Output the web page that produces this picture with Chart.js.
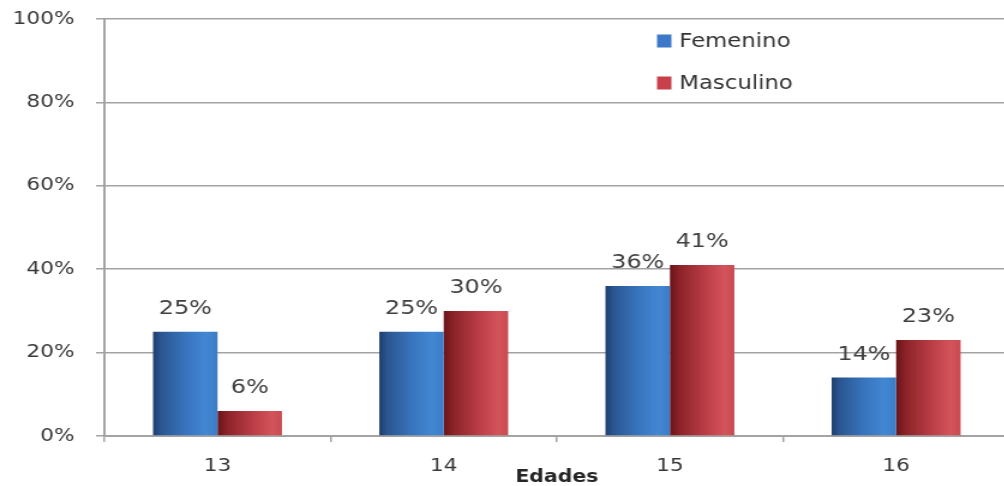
<!DOCTYPE html>
<html>
<head>
<meta charset="utf-8">
<script src="https://cdn.jsdelivr.net/npm/chart.js@4/dist/chart.umd.min.js"></script>
<style>
  html, body { margin: 0; padding: 0; background: #fff; overflow: hidden; }
  #wrap { position: relative; width: 842px; height: 486px; transform: scaleX(1.2); transform-origin: 0 0; }
</style>
</head>
<body>
<div id="wrap"><canvas id="edades"></canvas></div>
<script>
var edades = ['13', '14', '15', '16'];
var femenino = [25, 25, 36, 14];
var masculino = [6, 30, 41, 23];
var yTicks = [0, 20, 40, 60, 80, 100];

var gris = '#a3a3a3';
var texto = '#383838';

// shaded bars, dark on the left, light on the right
function sombra(stops, plano) {
    return function (ctx) {
        var chart = ctx.chart;
        if (ctx.type !== 'data' || !chart.chartArea) return plano;
        var x = chart.scales.x;
        var centro = x.getPixelForValue(ctx.dataIndex);
        var ancho = x.width / edades.length * 0.57 / 2;
        var izq = ctx.datasetIndex === 0 ? centro - ancho : centro;
        var g = chart.ctx.createLinearGradient(izq, 0, izq + ancho, 0);
        stops.forEach(function (s) { g.addColorStop(s[0], s[1]); });
        return g;
    };
}

var azul = sombra([[0, '#1f3e6c'], [0.12, '#2a5690'], [0.5, '#3874bd'], [0.82, '#4287d3'], [1, '#3c7cc6']], '#3c78c8');
var rojo = sombra([[0, '#6a1419'], [0.15, '#8c2329'], [0.6, '#c0414a'], [0.85, '#d5545b'], [1, '#c84a51']], '#c8404a');

// value labels above each bar
var etiquetas = {
    id: 'etiquetas',
    afterDatasetsDraw: function (chart) {
        var c = chart.ctx;
        c.save();
        c.font = '20px "DejaVu Sans"';
        c.fillStyle = '#404040';
        c.textAlign = 'center';
        c.textBaseline = 'middle';
        chart.data.datasets.forEach(function (ds, i) {
            chart.getDatasetMeta(i).data.forEach(function (el, j) {
                c.fillText(ds.data[j] + '%', el.x, el.y - 23);
            });
        });
        c.restore();
    }
};

// legend inside the plot, top right
var leyenda = {
    id: 'leyenda',
    afterDraw: function (chart) {
        var c = chart.ctx;
        var items = [['Femenino', '#3c78c8', 41], ['Masculino', '#c8404a', 83]];
        c.save();
        c.font = '19px "DejaVu Sans"';
        c.textBaseline = 'middle';
        items.forEach(function (it) {
            c.fillStyle = it[1];
            c.fillRect(547.5, it[2] - 6.5, 12, 13);
            c.fillStyle = '#333';
            c.fillText(it[0], 566, it[2] + 1);
        });
        c.restore();
    }
};

var chart = new Chart(document.getElementById('edades').getContext('2d'), {
    type: 'bar',
    data: {
        labels: edades,
        datasets: [{
            label: 'Femenino',
            data: femenino,
            backgroundColor: azul
        }, {
            label: 'Masculino',
            data: masculino,
            backgroundColor: rojo
        }]
    },
    options: {
        responsive: true,
        maintainAspectRatio: false,
        animation: false,
        categoryPercentage: 0.57,
        barPercentage: 1,
        layout: { padding: { top: 19, left: 10, right: 1, bottom: 0 } },
        plugins: {
            legend: { display: false },
            tooltip: { enabled: false }
        },
        scales: {
            x: {
                afterFit: function (axis) { axis.height = 50; },
                grid: { offset: true, drawOnChartArea: false, drawTicks: true, tickLength: 6, color: gris, lineWidth: 1.5 },
                border: { color: gris, width: 2 },
                ticks: { color: texto, padding: 15, font: { family: 'DejaVu Sans', size: 18, lineHeight: 1 } },
                title: {
                    display: true,
                    text: 'Edades',
                    color: '#262626',
                    font: { family: 'DejaVu Sans', size: 17, weight: 'bold', lineHeight: 1 },
                    padding: { top: -7, bottom: 0 }
                }
            },
            y: {
                min: 0,
                max: 100,
                afterFit: function (axis) { axis.width = 77; axis.paddingTop = 0; },
                afterBuildTicks: function (axis) {
                    axis.ticks = yTicks.map(function (v) { return { value: v }; });
                },
                grid: { color: gris, lineWidth: 1.5, tickLength: 7 },
                border: { color: gris, width: 2 },
                ticks: {
                    color: texto,
                    padding: 18,
                    font: { family: 'DejaVu Sans', size: 18 },
                    callback: function (v) { return v + '%'; }
                }
            }
        }
    },
    plugins: [etiquetas, leyenda]
});
</script>
</body>
</html>
